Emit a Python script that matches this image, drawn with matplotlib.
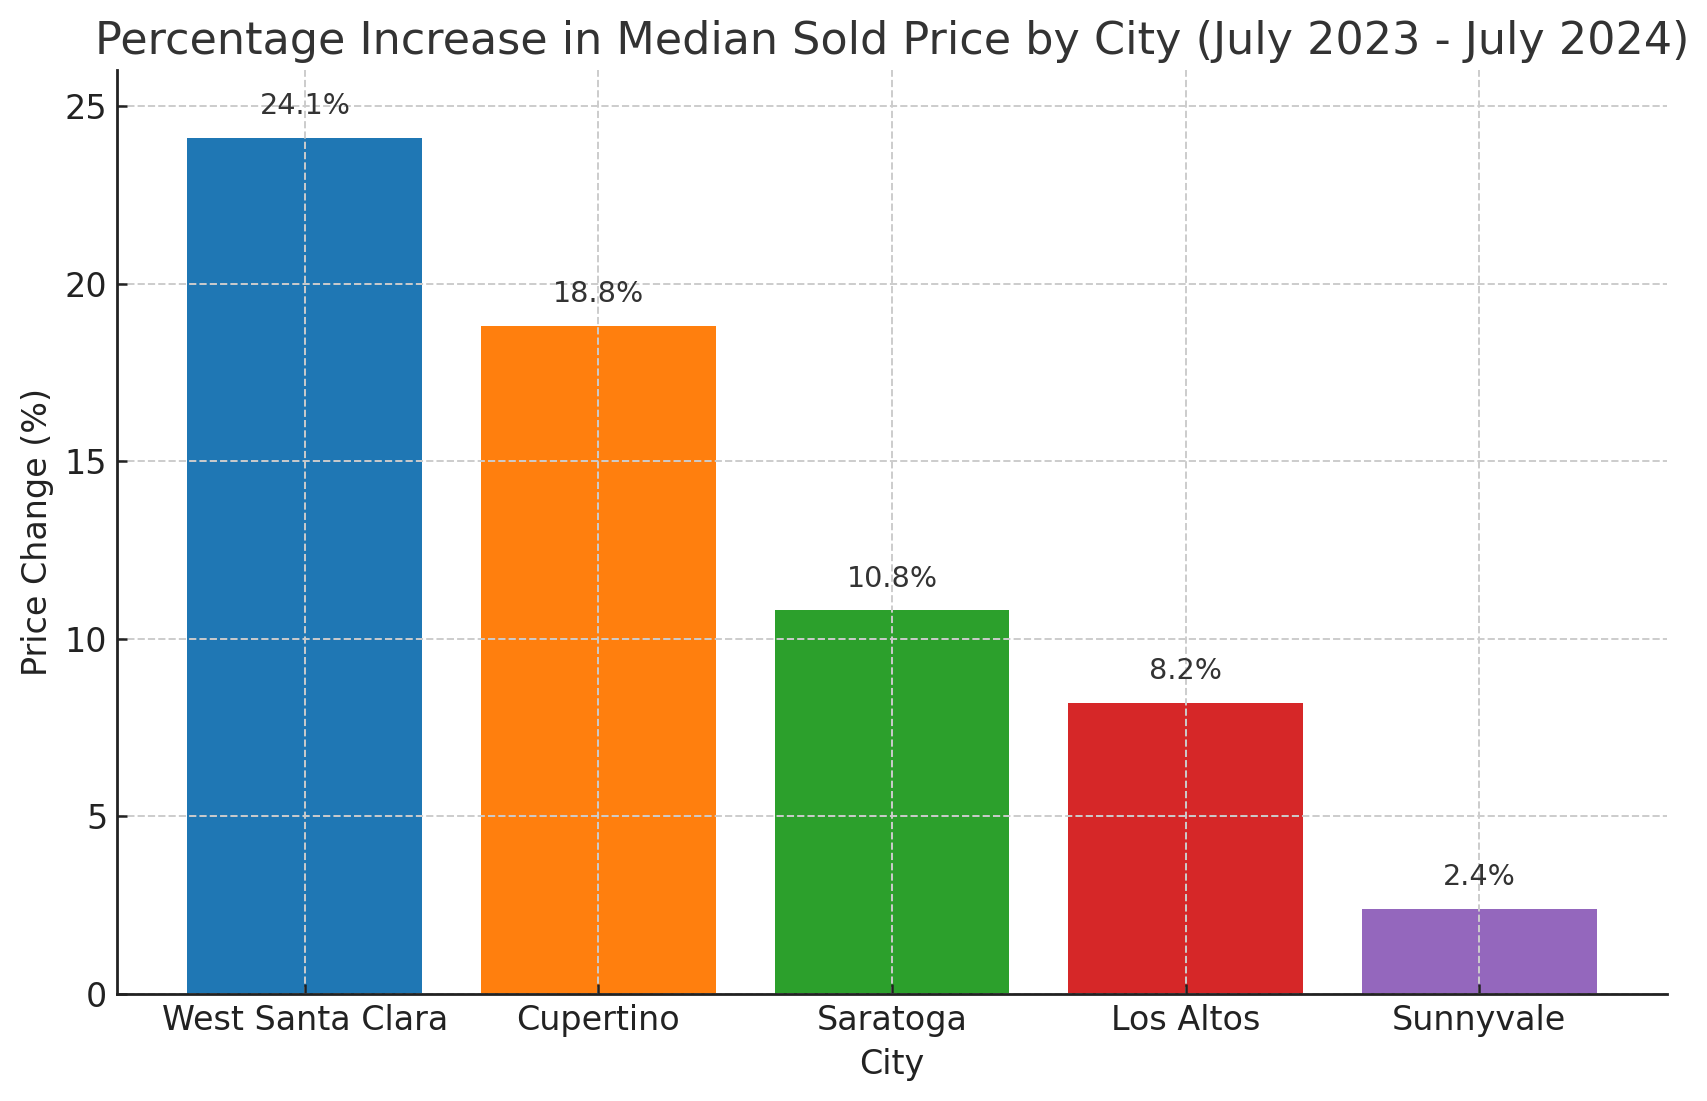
import matplotlib
matplotlib.use("Agg")
import matplotlib.pyplot as plt

cities = ["West Santa Clara", "Cupertino", "Saratoga", "Los Altos", "Sunnyvale"]
changes = [24.1, 18.8, 10.8, 8.2, 2.4]
bar_colors = ["#1f77b4", "#ff7f0e", "#2ca02c", "#d62728", "#9467bd"]

fig = plt.figure(figsize=(8.54, 5.505), dpi=200)
ax = fig.add_axes([0.0685, 0.0972, 0.9075, 0.8388])

bars = ax.bar(cities, changes, color=bar_colors, width=0.8)

for b, v in zip(bars, changes):
    ax.text(b.get_x() + b.get_width() / 2, v + 0.5, f"{v}%",
            ha="center", va="bottom", fontsize=10.3, color="#333333")

ax.set_ylim(0, 26)
ax.set_title("Percentage Increase in Median Sold Price by City (July 2023 - July 2024)",
             fontsize=16, color="#333333")
ax.set_xlabel("City", fontsize=12, color="#222222")
ax.set_ylabel("Price Change (%)", fontsize=12, color="#222222")

ax.grid(True, linestyle="--", color="#cccccc", linewidth=0.7)
ax.spines["top"].set_visible(False)
ax.spines["right"].set_visible(False)
for s in ("left", "bottom"):
    ax.spines[s].set_linewidth(1.0)
    ax.spines[s].set_color("#222222")
ax.tick_params(direction="in", length=3.5, width=0.9, labelsize=12,
               labelcolor="#222222", color="#222222")

fig.savefig("out.png", dpi=200)
